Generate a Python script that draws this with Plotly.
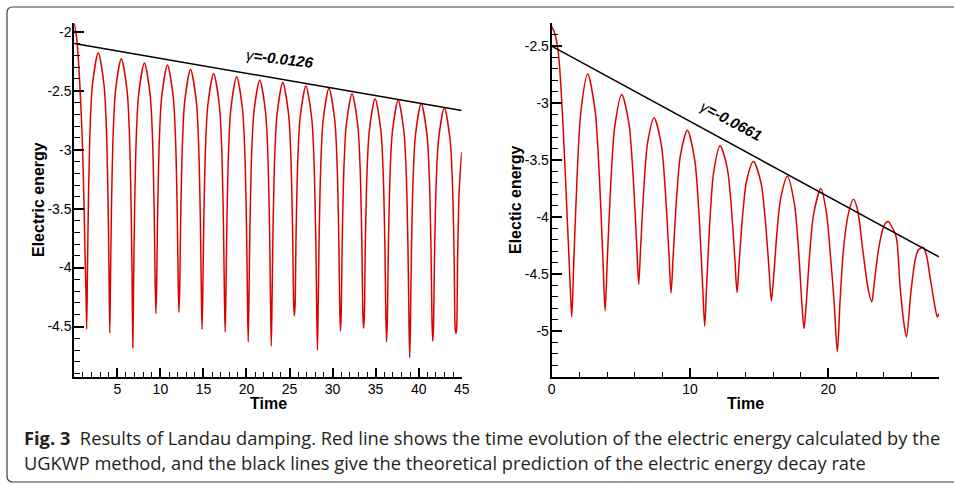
import plotly.graph_objects as go

# ---------------- data ----------------
left_t = [0.0, 0.3, 0.66, 0.98, 1.25, 1.37, 1.44,
          1.53, 1.64, 1.84, 2.11, 2.78, 3.45, 3.72, 3.92, 4.03, 4.12,
          4.21, 4.32, 4.52, 4.79, 5.46, 6.13, 6.40, 6.60, 6.71, 6.80,
          6.89, 7.00, 7.20, 7.47, 8.14, 8.81, 9.08, 9.28, 9.39, 9.48,
          9.57, 9.68, 9.88, 10.15, 10.82, 11.49, 11.76, 11.96, 12.07, 12.16,
          12.25, 12.36, 12.56, 12.83, 13.50, 14.17, 14.44, 14.64, 14.75, 14.84,
          14.93, 15.04, 15.24, 15.51, 16.18, 16.85, 17.12, 17.32, 17.43, 17.52,
          17.61, 17.72, 17.92, 18.19, 18.86, 19.53, 19.80, 20.00, 20.11, 20.20,
          20.29, 20.40, 20.60, 20.87, 21.54, 22.21, 22.48, 22.68, 22.79, 22.88,
          22.97, 23.08, 23.28, 23.55, 24.22, 24.89, 25.16, 25.36, 25.47, 25.56,
          25.65, 25.76, 25.96, 26.23, 26.90, 27.57, 27.84, 28.04, 28.15, 28.24,
          28.33, 28.44, 28.64, 28.91, 29.58, 30.25, 30.52, 30.72, 30.83, 30.92,
          31.01, 31.12, 31.32, 31.59, 32.26, 32.93, 33.20, 33.40, 33.51, 33.60,
          33.69, 33.80, 34.00, 34.27, 34.94, 35.61, 35.88, 36.08, 36.19, 36.28,
          36.37, 36.48, 36.68, 36.95, 37.62, 38.29, 38.56, 38.76, 38.87, 38.96,
          39.05, 39.16, 39.36, 39.63, 40.30, 40.97, 41.24, 41.44, 41.55, 41.64,
          41.73, 41.84, 42.04, 42.31, 42.98, 43.65, 43.92, 44.12, 44.23, 44.32,
          44.41, 44.52, 44.72, 45.0]
left_v = [-1.93, -2.07, -2.47, -3.03, -3.88, -4.25, -4.52,
          -4.028, -3.438, -2.808, -2.448, -2.178, -2.448, -2.808, -3.438, -4.028, -4.555,
          -4.078, -3.488, -2.858, -2.498, -2.228, -2.498, -2.858, -3.488, -4.078, -4.68,
          -4.115, -3.525, -2.895, -2.535, -2.265, -2.535, -2.895, -3.525, -4.115, -4.39,
          -4.132, -3.542, -2.912, -2.552, -2.282, -2.552, -2.912, -3.542, -4.132, -4.38,
          -4.168, -3.578, -2.948, -2.588, -2.318, -2.588, -2.948, -3.578, -4.168, -4.525,
          -4.203, -3.613, -2.983, -2.623, -2.353, -2.623, -2.983, -3.613, -4.203, -4.545,
          -4.231, -3.641, -3.011, -2.651, -2.381, -2.651, -3.011, -3.641, -4.231, -4.63,
          -4.259, -3.669, -3.039, -2.679, -2.409, -2.679, -3.039, -3.669, -4.259, -4.665,
          -4.281, -3.691, -3.061, -2.701, -2.431, -2.701, -3.061, -3.691, -4.281, -4.41,
          -4.309, -3.719, -3.089, -2.729, -2.459, -2.729, -3.089, -3.719, -4.309, -4.70,
          -4.328, -3.738, -3.108, -2.748, -2.478, -2.748, -3.108, -3.738, -4.328, -4.54,
          -4.375, -3.785, -3.155, -2.795, -2.525, -2.795, -3.155, -3.785, -4.375, -4.515,
          -4.418, -3.828, -3.198, -2.838, -2.568, -2.838, -3.198, -3.828, -4.418, -4.63,
          -4.428, -3.838, -3.208, -2.848, -2.578, -2.848, -3.208, -3.838, -4.428, -4.765,
          -4.457, -3.867, -3.237, -2.877, -2.607, -2.877, -3.237, -3.867, -4.457, -4.625,
          -4.495, -3.905, -3.275, -2.915, -2.645, -2.915, -3.275, -3.905, -4.495, -4.56,
          -4.52, -3.93, -3.33, -3.02]

right_t = [0.0, 0.2, 0.48, 0.80, 1.13, 1.32, 1.45,
           1.60, 1.852, 2.117, 2.60, 3.129, 3.419, 3.696, 3.86,
           4.016, 4.28, 4.556, 5.06, 5.577, 5.86, 6.13, 6.29,
           6.434, 6.68, 6.934, 7.40, 7.917, 8.20, 8.47, 8.63,
           8.783, 9.043, 9.314, 9.81, 10.335, 10.623, 10.898, 11.06,
           11.204, 11.448, 11.704, 12.17, 12.687, 12.97, 13.24, 13.40,
           13.553, 13.813, 14.084, 14.58, 15.126, 15.425, 15.711, 15.88,
           16.031, 16.286, 16.553, 17.04, 17.544, 17.82, 18.084, 18.24,
           18.397, 18.664, 18.942, 19.46, 19.85, 20.12, 20.41, 20.65,
           20.85, 21.09, 21.45, 21.81, 22.10, 22.49, 22.89, 23.14,
           23.30, 23.62, 23.98, 24.15, 24.34, 24.55, 24.82, 24.97, 25.18, 25.46, 25.65,
           25.96, 26.27, 26.50, 26.85, 27.10, 27.35, 27.71, 27.88, 28.0]
right_v = [-2.33, -2.38, -2.56, -3.15, -4.03, -4.55, -4.877,
           -4.387, -3.598, -3.066, -2.746, -3.058, -3.577, -4.346, -4.824,
           -4.387, -3.684, -3.209, -2.924, -3.174, -3.590, -4.207, -4.590,
           -4.254, -3.713, -3.348, -3.129, -3.360, -3.744, -4.312, -4.666,
           -4.338, -3.809, -3.452, -3.238, -3.496, -3.926, -4.563, -4.959,
           -4.595, -4.009, -3.613, -3.375, -3.568, -3.890, -4.367, -4.663,
           -4.399, -3.973, -3.686, -3.513, -3.697, -4.003, -4.455, -4.737,
           -4.551, -4.135, -3.839, -3.642, -3.883, -4.244, -4.752, -4.979,
           -4.77, -4.303, -3.971, -3.75, -3.95, -4.29, -4.73, -5.184,
           -4.73, -4.29, -3.97, -3.845, -3.93, -4.29, -4.64, -4.745,
           -4.60, -4.29, -4.09, -4.05, -4.04, -4.08, -4.14, -4.22, -4.60, -4.93, -5.053,
           -4.67, -4.38, -4.29, -4.265, -4.34, -4.525, -4.789, -4.877, -4.85]

left_fit_t = [0, 45]
left_fit_v = [-2.1, -2.667]
right_fit_t = [0, 28]
right_fit_v = [-2.5, -4.35]

left_xtick_vals = [5, 10, 15, 20, 25, 30, 35, 40, 45]
left_xtick_text = ["5", "10", "15", "20", "25", "30", "35", "40", "45"]
left_ytick_vals = [-2, -2.5, -3, -3.5, -4, -4.5]
left_ytick_text = ["-2", "-2.5", "-3", "-3.5", "-4", "-4.5"]
right_xtick_vals = [0, 10, 20]
right_xtick_text = ["0", "10", "20"]
right_ytick_vals = [-2.5, -3, -3.5, -4, -4.5, -5]
right_ytick_text = ["-2.5", "-3", "-3.5", "-4", "-4.5", "-5"]

x_title = "Time"
left_y_title = "Electric energy"
right_y_title = "Electic energy"
left_gamma = "=-0.0126"
right_gamma = "=-0.0661"
caption_line1 = "<b>Fig. 3</b>\u00a0 Results of Landau damping. Red line shows the time evolution of the electric energy calculated by the"
caption_line2 = "UGKWP method, and the black lines give the theoretical prediction of the electric energy decay rate"

assert len(left_t) == len(left_v)
assert len(right_t) == len(right_v)

# ---------------- figure ----------------
W, H = 954, 485
RED = "#dd0000"

def px(x):
    return x / W
def py(y):
    return 1 - y / H

fig = go.Figure()
fig.add_trace(go.Scatter(x=left_t, y=left_v, mode="lines", xaxis="x", yaxis="y",
                         line=dict(color=RED, width=1.5, shape="spline", smoothing=0.8),
                         showlegend=False, hoverinfo="skip"))
fig.add_trace(go.Scatter(x=left_fit_t, y=left_fit_v, mode="lines", xaxis="x", yaxis="y",
                         line=dict(color="black", width=1.5), showlegend=False, hoverinfo="skip"))
fig.add_trace(go.Scatter(x=right_t, y=right_v, mode="lines", xaxis="x2", yaxis="y2",
                         line=dict(color=RED, width=1.5, shape="spline", smoothing=0.8),
                         showlegend=False, hoverinfo="skip"))
fig.add_trace(go.Scatter(x=right_fit_t, y=right_fit_v, mode="lines", xaxis="x2", yaxis="y2",
                         line=dict(color="black", width=1.5), showlegend=False, hoverinfo="skip"))

tick_font = dict(family="Liberation Sans, Arial, sans-serif", size=14, color="black")
title_font = dict(family="Liberation Sans, Arial, sans-serif", size=16, color="black")

def xax(domain, rng, tv, tt, minor_dtick, anchor):
    return dict(domain=domain, range=rng, anchor=anchor, showgrid=False, zeroline=False,
                automargin=False,
                showline=True, linecolor="black", linewidth=2, mirror=False,
                ticks="inside", ticklen=9, tickwidth=1.5, tickcolor="black",
                tickmode="array", tickvals=tv, ticktext=tt, tickfont=tick_font,
                ticklabelstandoff=-2,
                minor=dict(ticks="inside", ticklen=5, tickwidth=1.2, tickcolor="black",
                           dtick=minor_dtick, tick0=0, showgrid=False))

def yax(domain, rng, tv, tt, anchor):
    return dict(domain=domain, range=rng, anchor=anchor, showgrid=False, zeroline=False,
                automargin=False,
                showline=True, linecolor="black", linewidth=2, mirror=False,
                ticks="inside", ticklen=10, tickwidth=1.5, tickcolor="black",
                tickmode="array", tickvals=tv, ticktext=tt, tickfont=tick_font,
                ticklabelstandoff=-2,
                minor=dict(ticks="inside", ticklen=6, tickwidth=1.2, tickcolor="black",
                           dtick=0.1, tick0=0, showgrid=False))

ydom = [py(377.0), py(23.3)]
fig.update_layout(
    width=W, height=H, margin=dict(l=0, r=0, t=0, b=0, autoexpand=False),
    paper_bgcolor="white", plot_bgcolor="white",
    xaxis=xax([px(74.3), px(461.7)], [0, 45], left_xtick_vals, left_xtick_text, 1, "y"),
    yaxis=yax(ydom, [-4.928, -1.928], left_ytick_vals, left_ytick_text, "x"),
    xaxis2=xax([px(551.7), px(939.0)], [0, 28], right_xtick_vals, right_xtick_text, 2, "y2"),
    yaxis2=yax(ydom, [-5.404, -2.30], right_ytick_vals, right_ytick_text, "x2"),
)

def ann(x, y, text, font, angle=0, xanchor="center"):
    fig.add_annotation(x=px(x), y=py(y), xref="paper", yref="paper", showarrow=False,
                       xanchor=xanchor, yanchor="middle", text=text, textangle=angle, font=font)

# axis titles
ann(268, 403, "<b>" + x_title + "</b>", title_font)
ann(745, 403, "<b>" + x_title + "</b>", title_font)
ann(38, 200, "<b>" + left_y_title + "</b>", title_font, angle=-90)
ann(515, 200, "<b>" + right_y_title + "</b>", title_font, angle=-90)

# decay-rate labels
gfont = dict(family="Liberation Sans, Arial, sans-serif", size=15, color="black")
ann(280, 58, "<i>γ</i><b><i>" + left_gamma + "</i></b>", gfont, angle=7)
ann(731, 120, "<i>γ</i><b><i>" + right_gamma + "</i></b>", gfont, angle=28)

# caption
cap_font = dict(family="Open Sans, Noto Sans, sans-serif", size=18.3, color="#231f20")
ann(22, 437, caption_line1, cap_font, xanchor="left")
ann(22, 462, caption_line2, cap_font, xanchor="left")

# rounded frame around the figure
x0, y0, x1, y1 = 7.0, 7.0, 975.0, 482.0
r = 6.0
path = (f"M {px(x0 + r)} {py(y0)} L {px(x1)} {py(y0)} L {px(x1)} {py(y1)} "
        f"L {px(x0 + r)} {py(y1)} Q {px(x0)} {py(y1)} {px(x0)} {py(y1 - r)} "
        f"L {px(x0)} {py(y0 + r)} Q {px(x0)} {py(y0)} {px(x0 + r)} {py(y0)} Z")
fig.add_shape(type="path", path=path, xref="paper", yref="paper",
              line=dict(color="#3a3a3a", width=1.2), fillcolor="rgba(0,0,0,0)", layer="below")

fig.write_html("out.html", config={"displayModeBar": False},
               post_script="document.body.style.margin='0px';")
